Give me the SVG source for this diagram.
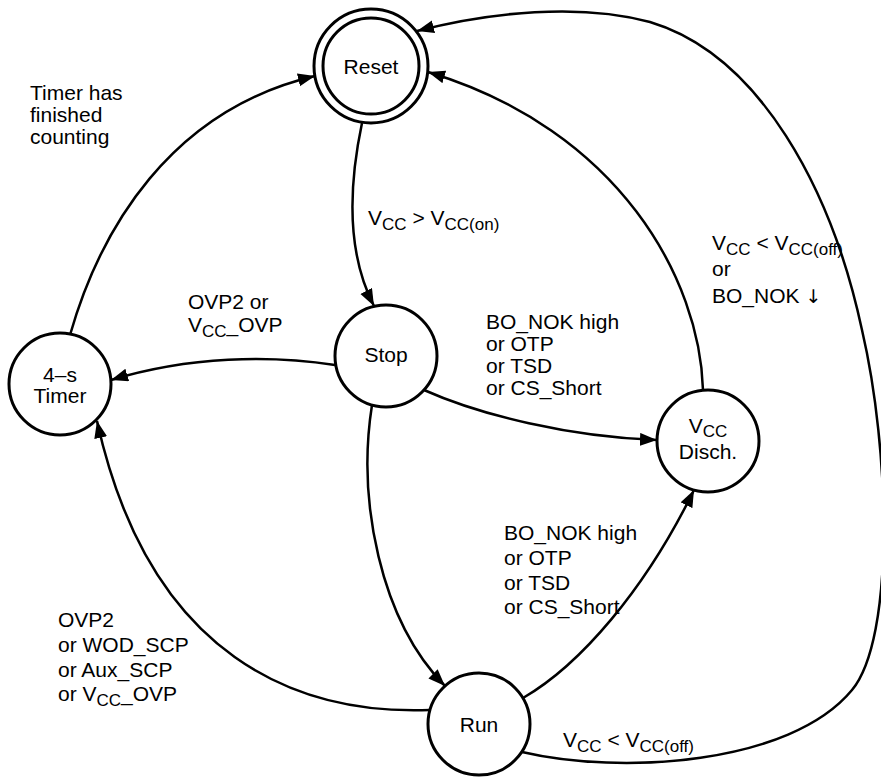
<svg xmlns="http://www.w3.org/2000/svg" width="881" height="777" viewBox="0 0 881 777">
<style>
  .node { fill: #fff; stroke: #000; stroke-width: 3; }
  .edge { fill: none; stroke: #000; stroke-width: 2.5; marker-end: url(#arr); }
  text { font-family: "Liberation Sans", Arial, sans-serif; font-size: 21px; fill: #000; }
  .c { text-anchor: middle; }
  .sub { font-size: 17px; }
  .sym { font-family: "DejaVu Sans", sans-serif; font-size: 19px; fill: #000; }
</style>
<defs>
  <marker id="arr" markerUnits="userSpaceOnUse" markerWidth="18" markerHeight="14" refX="17" refY="6.5" orient="auto">
    <path d="M0,0 L17,6.5 L0,13 z" fill="#000"/>
  </marker>
</defs>

<g id="connectors">
  <path class="edge" d="M 362 123 C 350 180, 345 250, 374 306"/>
  <path class="edge" d="M 335 365 C 270 355, 190 356, 111 380"/>
  <path class="edge" d="M 70 335 C 100 230, 170 110, 315 76"/>
  <path class="edge" d="M 424 390 C 480 415, 570 437, 657 440"/>
  <path class="edge" d="M 372 405 C 357 500, 380 620, 445 686"/>
  <path class="edge" d="M 430 710 C 300 715, 150 660, 97 421"/>
  <path class="edge" d="M 523 698 C 580 665, 645 590, 694 490"/>
  <path class="edge" d="M 703 390 C 700 280, 620 130, 428 72"/>
  <path class="edge" d="M 522 752 C 620 775, 790 765, 852 690 C 895 638, 890 450, 862 330 C 832 190, 760 55, 650 22 C 580 3, 490 12, 417 31"/>
</g>

<g id="reset">
  <circle class="node" cx="371" cy="66" r="57"/>
  <circle class="node" cx="371" cy="66" r="48"/>
  <text class="c" x="371" y="74">Reset</text>
</g>
<g id="stop">
  <circle class="node" cx="386" cy="356" r="51"/>
  <text class="c" x="386" y="362">Stop</text>
</g>
<g id="timer">
  <circle class="node" cx="60" cy="384" r="51"/>
  <text class="c" x="60" y="382">4–s</text>
  <text class="c" x="60" y="403">Timer</text>
</g>
<g id="vccdisch">
  <circle class="node" cx="708" cy="441" r="51"/>
  <text class="c" x="708" y="433">V<tspan class="sub" dy="4">CC</tspan></text>
  <text class="c" x="708" y="459">Disch.</text>
</g>
<g id="run">
  <circle class="node" cx="479" cy="724" r="51"/>
  <text class="c" x="479" y="732">Run</text>
</g>

<g id="labels">
  <text x="30" y="100">Timer has</text>
  <text x="30" y="122">finished</text>
  <text x="30" y="144">counting</text>

  <text x="368" y="225">V<tspan class="sub" dy="5">CC</tspan><tspan dy="-5"> &gt; V</tspan><tspan class="sub" dy="5">CC(on)</tspan></text>

  <text x="188" y="309">OVP2 or</text>
  <text x="188" y="332">V<tspan class="sub" dy="5">CC</tspan><tspan dy="-5">_OVP</tspan></text>

  <text x="486" y="329">BO_NOK high</text>
  <text x="486" y="351">or OTP</text>
  <text x="486" y="373">or TSD</text>
  <text x="486" y="395">or CS_Short</text>

  <text x="712" y="250">V<tspan class="sub" dy="5">CC</tspan><tspan dy="-5"> &lt; V</tspan><tspan class="sub" dy="5">CC(off)</tspan></text>
  <text x="712" y="276">or</text>
  <text x="712" y="303">BO_NOK <tspan class="sym">↓</tspan></text>

  <text x="504" y="540">BO_NOK high</text>
  <text x="504" y="565">or OTP</text>
  <text x="504" y="590">or TSD</text>
  <text x="504" y="614">or CS_Short</text>

  <text x="58" y="627">OVP2</text>
  <text x="58" y="652">or WOD_SCP</text>
  <text x="58" y="677">or Aux_SCP</text>
  <text x="58" y="701">or V<tspan class="sub" dy="5">CC</tspan><tspan dy="-5">_OVP</tspan></text>

  <text x="563" y="747">V<tspan class="sub" dy="5">CC</tspan><tspan dy="-5"> &lt; V</tspan><tspan class="sub" dy="5">CC(off)</tspan></text>
</g>
</svg>
